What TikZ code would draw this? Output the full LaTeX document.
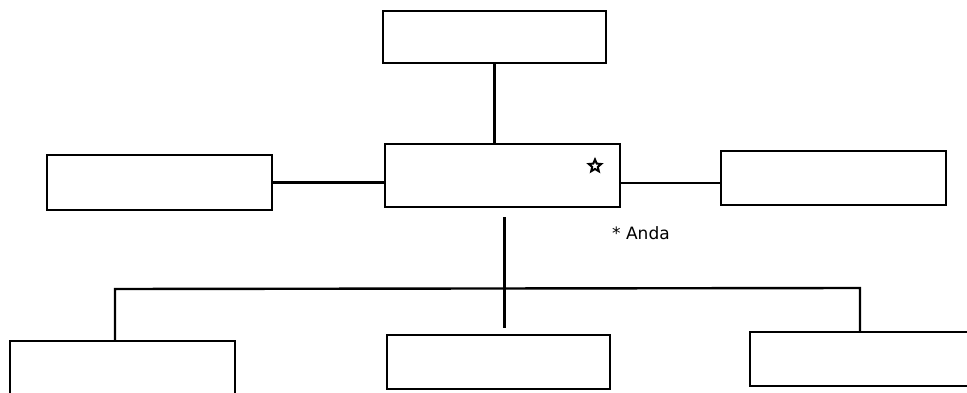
\documentclass[tikz,border=0pt]{standalone}
\usepackage{fontspec}
\setmainfont{DejaVu Sans}
\usetikzlibrary{shapes.geometric}
\begin{document}
\begin{tikzpicture}[x=1pt,y=-1pt,
  box/.style={draw, line width=2.2pt, inner sep=0pt, anchor=north west},
  link/.style={line width=2.4pt},
  lbl/.style={font=\fontsize{17}{19}\selectfont, inner sep=0pt, anchor=west}]
\clip (0,0) rectangle (967,393);
\fill[white] (0,0) rectangle (967,393);
\node[box, minimum width=223pt, minimum height=52pt] (top) at (382,10) {};
\node[box, minimum width=235pt, minimum height=63pt] (mid) at (384,143) {};
\node[box, minimum width=225pt, minimum height=55pt] (left) at (46,154) {};
\node[box, minimum width=225pt, minimum height=54pt] (right) at (720,150) {};
\node[box, minimum width=225pt, minimum height=70pt] (bl) at (9,340) {};
\node[box, minimum width=223pt, minimum height=54pt] (bm) at (386,334) {};
\node[box, minimum width=240pt, minimum height=54pt] (br) at (749,331) {};
\node[star, star points=5, star point ratio=2.2, draw, line width=2pt, minimum size=13pt, inner sep=0pt] (mark) at (595,166) {};
\node[lbl] (anda) at (612,233) {* Anda};
\coordinate (busL) at (115,289);
\coordinate (busR) at (860,288);
\draw[link] (top.south) -- (top.south |- mid.north);
\draw[link] (left.east) -- (left.east -| mid.west);
\draw[link] ([yshift=-5pt]right.west) -- ([yshift=-5pt]right.west -| mid.east);
\draw[link, shorten <=9pt, shorten >=6pt] ([xshift=2pt]mid.south) -- ([xshift=2pt]mid.south |- bm.north);
\draw[link] (busL |- bl.north) -- (busL) -- (busR) -- (busR |- br.north);
\end{tikzpicture}
\end{document}
